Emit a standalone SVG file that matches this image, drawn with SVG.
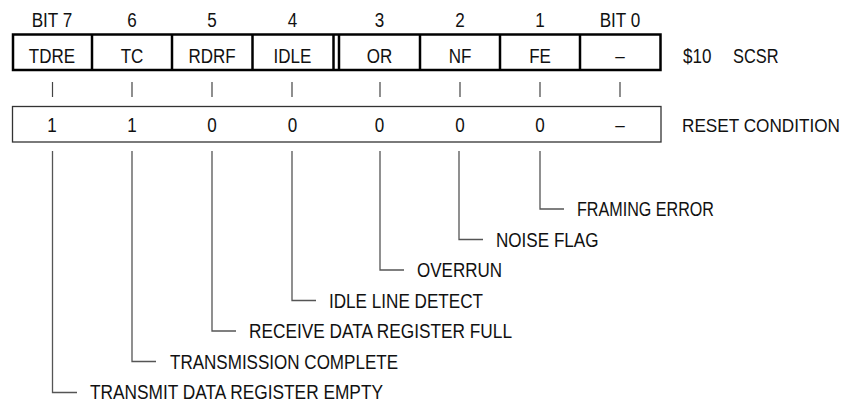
<svg xmlns="http://www.w3.org/2000/svg" width="848" height="402" viewBox="0 0 848 402">
<style>
text{font-family:"Liberation Sans",Arial,sans-serif;font-size:19.5px;fill:#111;}
.c{text-anchor:middle;}
.box{fill:none;stroke:#000;stroke-width:2.5;}
.div{stroke:#000;stroke-width:2.5;}
.rst{fill:none;stroke:#333;stroke-width:1.3;}
.tick{stroke:#444;stroke-width:1.2;}
.lead{fill:none;stroke:#555;stroke-width:1.3;}
</style>
<rect width="848" height="402" fill="#fff"/>
<g id="bit-numbers">
<text class="c" x="52" y="27" textLength="40.6" lengthAdjust="spacingAndGlyphs">BIT 7</text>
<text class="c" x="132" y="27" textLength="9.5" lengthAdjust="spacingAndGlyphs">6</text>
<text class="c" x="212" y="27" textLength="9.5" lengthAdjust="spacingAndGlyphs">5</text>
<text class="c" x="292.5" y="27" textLength="9.5" lengthAdjust="spacingAndGlyphs">4</text>
<text class="c" x="379.5" y="27" textLength="9.5" lengthAdjust="spacingAndGlyphs">3</text>
<text class="c" x="460" y="27" textLength="9.5" lengthAdjust="spacingAndGlyphs">2</text>
<text class="c" x="540" y="27" textLength="9.5" lengthAdjust="spacingAndGlyphs">1</text>
<text class="c" x="620" y="27" textLength="40.6" lengthAdjust="spacingAndGlyphs">BIT 0</text>
</g>
<g id="register">
<rect class="box" x="13" y="34.5" width="647.5" height="35.5"/>
<line class="div" x1="92" y1="34.5" x2="92" y2="70"/>
<line class="div" x1="172" y1="34.5" x2="172" y2="70"/>
<line class="div" x1="252.5" y1="34.5" x2="252.5" y2="70"/>
<line class="div" x1="333.5" y1="34.5" x2="333.5" y2="70"/>
<line class="div" x1="339" y1="34.5" x2="339" y2="70"/>
<line class="div" x1="420" y1="34.5" x2="420" y2="70"/>
<line class="div" x1="500" y1="34.5" x2="500" y2="70"/>
<line class="div" x1="580" y1="34.5" x2="580" y2="70"/>
<text class="c" x="52" y="62.5" textLength="46.3" lengthAdjust="spacingAndGlyphs">TDRE</text>
<text class="c" x="132" y="62.5" textLength="22.7" lengthAdjust="spacingAndGlyphs">TC</text>
<text class="c" x="212" y="62.5" textLength="47.2" lengthAdjust="spacingAndGlyphs">RDRF</text>
<text class="c" x="292.5" y="62.5" textLength="37.8" lengthAdjust="spacingAndGlyphs">IDLE</text>
<text class="c" x="379.5" y="62.5" textLength="25.5" lengthAdjust="spacingAndGlyphs">OR</text>
<text class="c" x="460" y="62.5" textLength="22.7" lengthAdjust="spacingAndGlyphs">NF</text>
<text class="c" x="540" y="62.5" textLength="21.7" lengthAdjust="spacingAndGlyphs">FE</text>
<text class="c" x="620" y="62.5" textLength="9.5" lengthAdjust="spacingAndGlyphs">–</text>
<text x="683" y="62.5" textLength="28.4" lengthAdjust="spacingAndGlyphs">$10</text>
<text x="733" y="62.5" textLength="45.5" lengthAdjust="spacingAndGlyphs">SCSR</text>
</g>
<g id="ticks">
<line class="tick" x1="52.5" y1="82" x2="52.5" y2="97"/>
<line class="tick" x1="132" y1="82" x2="132" y2="97"/>
<line class="tick" x1="212" y1="82" x2="212" y2="97"/>
<line class="tick" x1="292" y1="82" x2="292" y2="97"/>
<line class="tick" x1="380" y1="82" x2="380" y2="97"/>
<line class="tick" x1="460" y1="82" x2="460" y2="97"/>
<line class="tick" x1="540" y1="82" x2="540" y2="97"/>
<line class="tick" x1="620" y1="82" x2="620" y2="97"/>
</g>
<g id="reset">
<rect class="rst" x="12.5" y="106.5" width="648.5" height="35.5"/>
<text class="c" x="52" y="131.5" textLength="9.5" lengthAdjust="spacingAndGlyphs">1</text>
<text class="c" x="132" y="131.5" textLength="9.5" lengthAdjust="spacingAndGlyphs">1</text>
<text class="c" x="212" y="131.5" textLength="9.5" lengthAdjust="spacingAndGlyphs">0</text>
<text class="c" x="292.5" y="131.5" textLength="9.5" lengthAdjust="spacingAndGlyphs">0</text>
<text class="c" x="379.5" y="131.5" textLength="9.5" lengthAdjust="spacingAndGlyphs">0</text>
<text class="c" x="460" y="131.5" textLength="9.5" lengthAdjust="spacingAndGlyphs">0</text>
<text class="c" x="540" y="131.5" textLength="9.5" lengthAdjust="spacingAndGlyphs">0</text>
<text class="c" x="620" y="131.5" textLength="9.5" lengthAdjust="spacingAndGlyphs">–</text>
<text x="682" y="131.5" style="font-size:17.5px" textLength="158" lengthAdjust="spacingAndGlyphs">RESET CONDITION</text>
</g>
<g id="connectors">
<path class="lead" d="M540,151V209H564"/>
<path class="lead" d="M459,151V239.5H483"/>
<path class="lead" d="M380,151V270H404"/>
<path class="lead" d="M292,151V300.5H316"/>
<path class="lead" d="M212,151V331H236"/>
<path class="lead" d="M132,151V361.5H156"/>
<path class="lead" d="M52.5,151V392.5H77"/>
</g>
<g id="labels">
<text x="577" y="216" textLength="137" lengthAdjust="spacingAndGlyphs">FRAMING ERROR</text>
<text x="496" y="246.5" textLength="102.5" lengthAdjust="spacingAndGlyphs">NOISE FLAG</text>
<text x="417" y="277" textLength="85" lengthAdjust="spacingAndGlyphs">OVERRUN</text>
<text x="329" y="307.5" textLength="154" lengthAdjust="spacingAndGlyphs">IDLE LINE DETECT</text>
<text x="249" y="338" textLength="263" lengthAdjust="spacingAndGlyphs">RECEIVE DATA REGISTER FULL</text>
<text x="170" y="368.5" textLength="228" lengthAdjust="spacingAndGlyphs">TRANSMISSION COMPLETE</text>
<text x="90" y="398.5" textLength="293" lengthAdjust="spacingAndGlyphs">TRANSMIT DATA REGISTER EMPTY</text>
</g>
</svg>
